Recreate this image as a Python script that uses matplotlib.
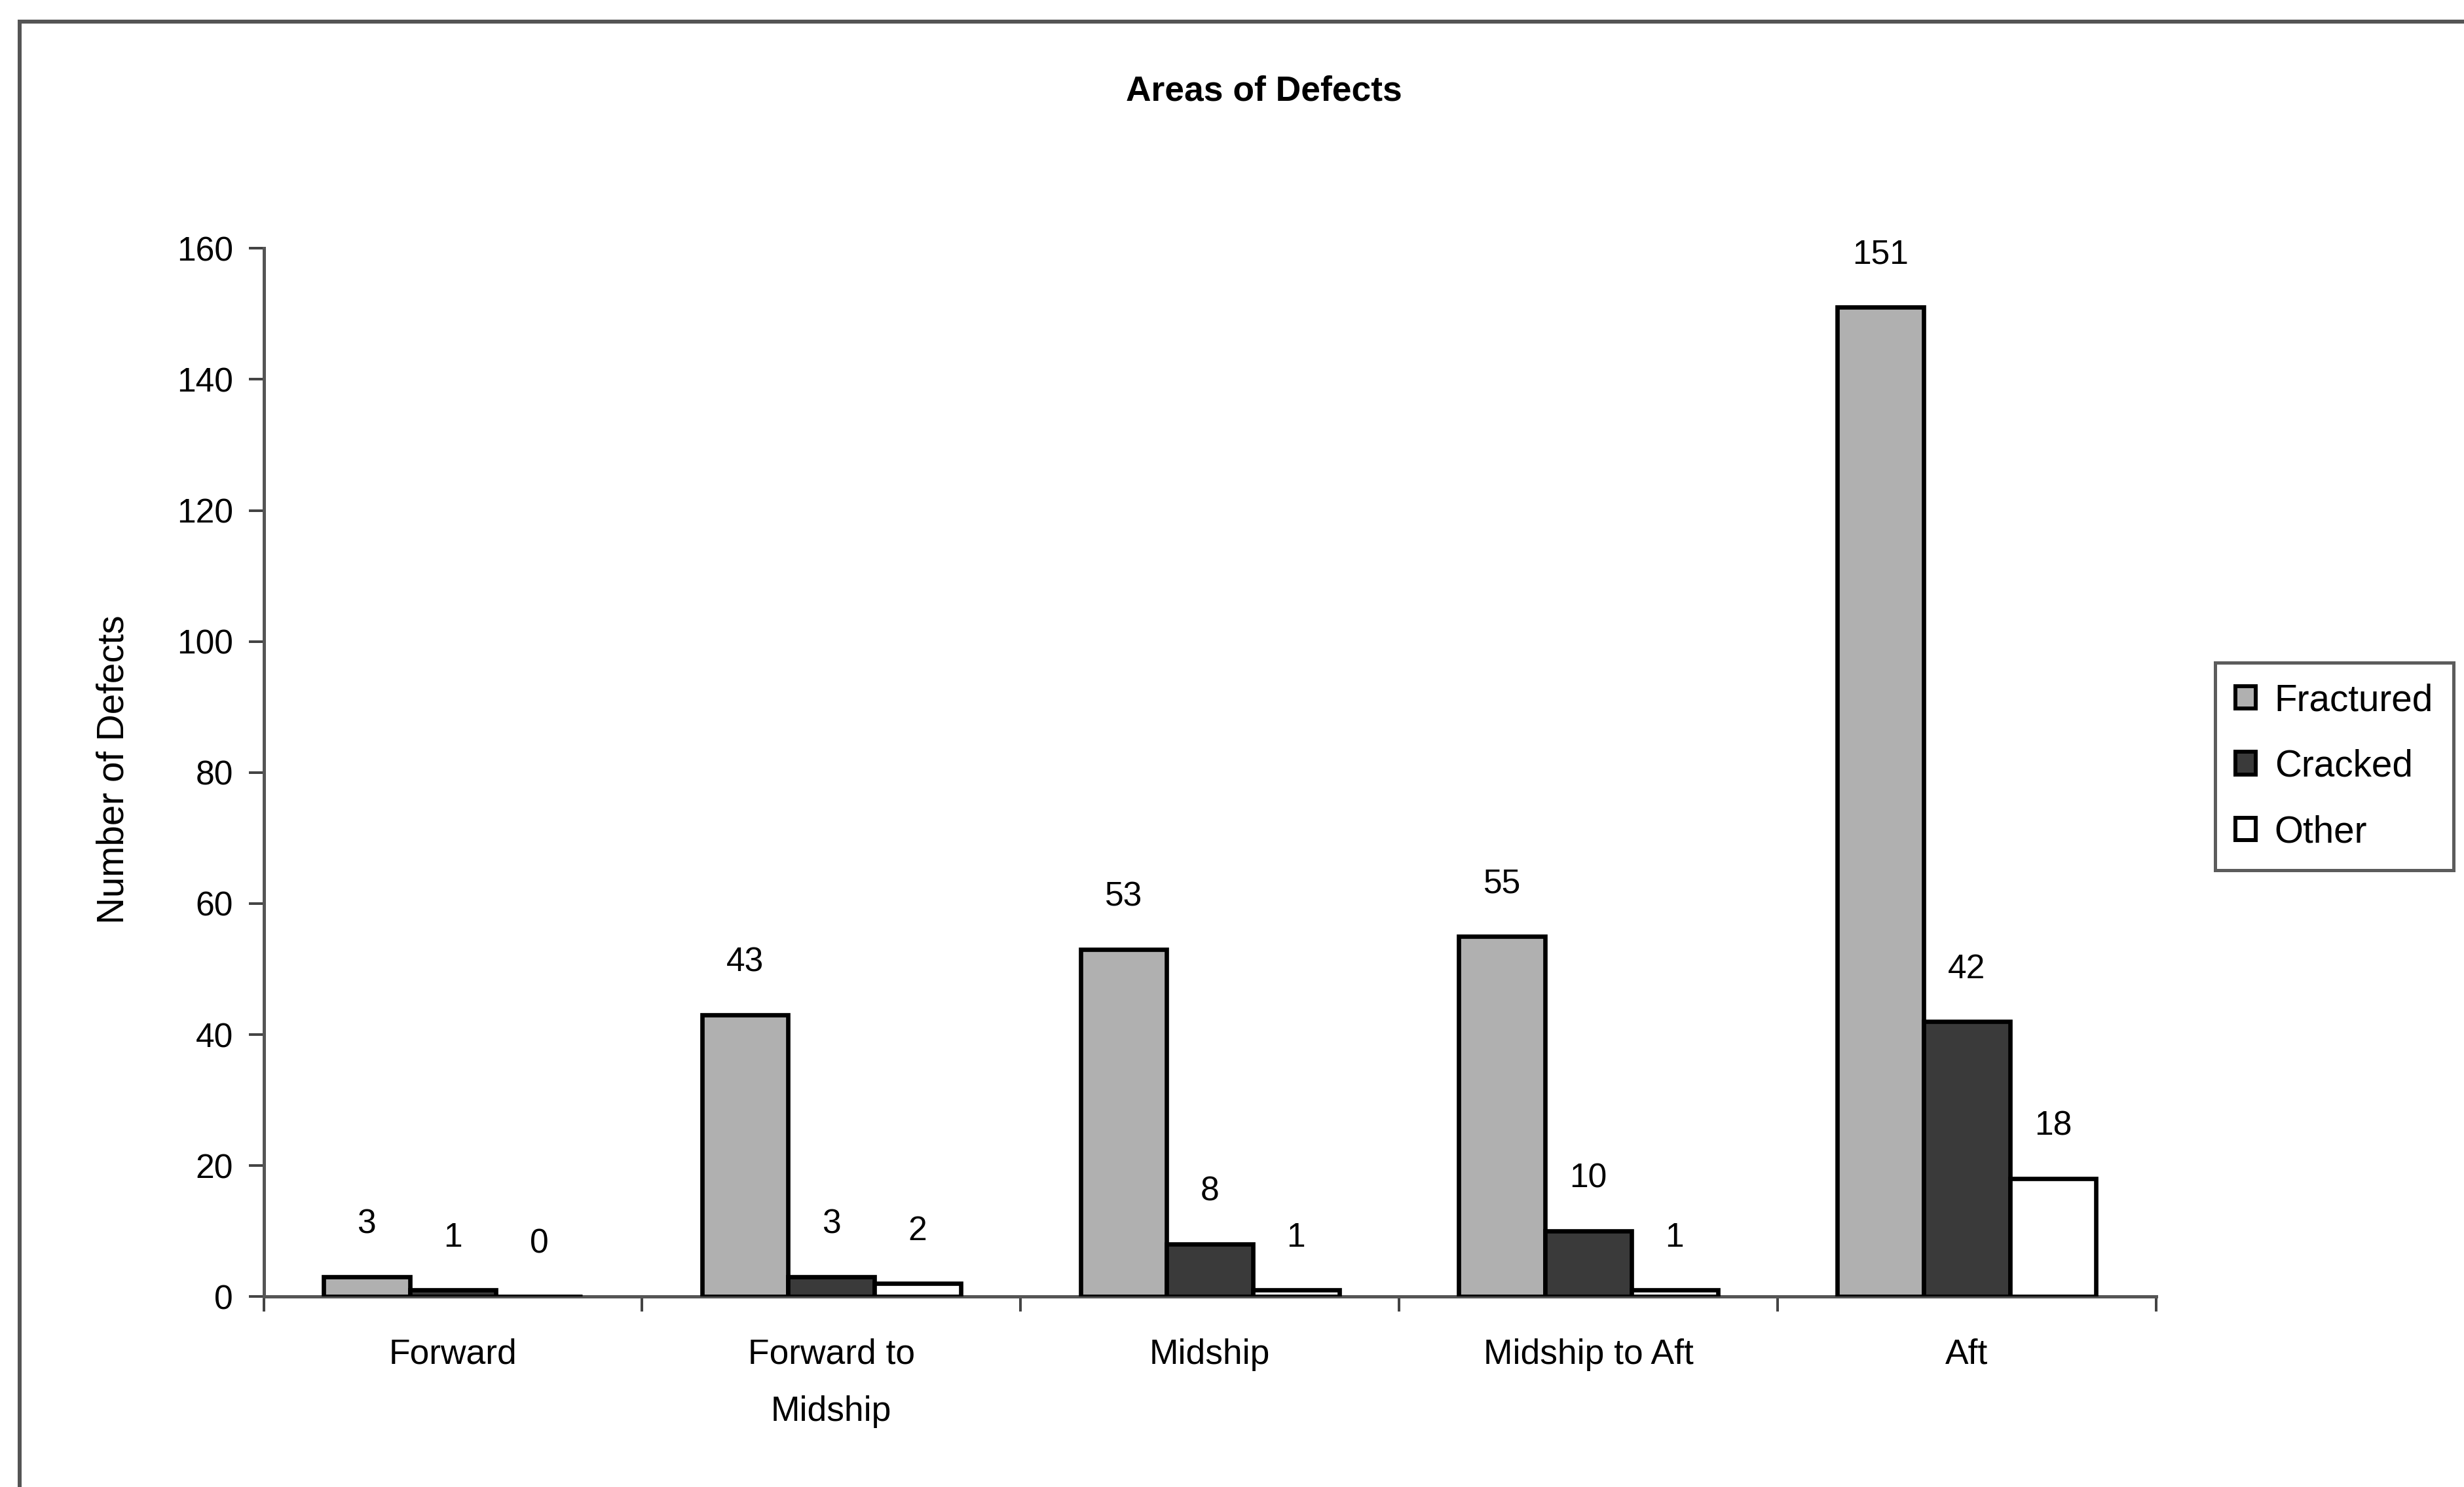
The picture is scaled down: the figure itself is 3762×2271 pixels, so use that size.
import matplotlib.pyplot as plt
import numpy as np
from matplotlib.patches import Rectangle, Patch

plt.rcParams['font.family'] = ['Liberation Sans', 'DejaVu Sans']

# data
areas = ['Forward', 'Forward to\nMidship', 'Midship', 'Midship to Aft', 'Aft']
fractured = [3, 43, 53, 55, 151]
cracked = [1, 3, 8, 10, 42]
other = [0, 2, 1, 1, 18]
series_names = ['Fractured', 'Cracked', 'Other']
y_ticks = [0, 20, 40, 60, 80, 100, 120, 140, 160]

fig = plt.figure(figsize=(15.675, 9.4625), dpi=240)
ax = fig.add_axes([0.107, 0.128, 0.768, 0.705])

x = np.arange(len(areas))
w = 0.228
colors = ['#b0b0b0', '#3a3a3a', '#ffffff']
for j, (vals, col) in enumerate(zip([fractured, cracked, other], colors)):
    bars = ax.bar(x + (j - 1) * w, vals, w, color=col, edgecolor='black',
                  linewidth=2.0, label=series_names[j], zorder=3)
    for b, v in zip(bars, vals):
        ax.annotate(str(v), (b.get_x() + b.get_width() / 2, v),
                    xytext=(0, 24), textcoords='offset points',
                    ha='center', va='center', fontsize=15.5)

ax.set_xlim(-0.5, len(areas) - 0.5)
ax.set_ylim(0, 160)
ax.set_yticks(y_ticks)
ax.set_yticklabels([str(t) for t in y_ticks], fontsize=15.5)
ax.set_xticks(x)
ax.set_xticklabels(areas, fontsize=16, linespacing=1.95, va='top')
ax.set_xticks(np.arange(len(areas) + 1) - 0.5, minor=True)
ax.tick_params(axis='x', which='major', length=0, pad=19)
ax.tick_params(axis='x', which='minor', length=7, width=1.2, color='#444444')
ax.tick_params(axis='y', length=7, width=1.2, color='#444444', pad=7)

for s in ['top', 'right']:
    ax.spines[s].set_visible(False)
for s in ['left', 'bottom']:
    ax.spines[s].set_color('#555555')
    ax.spines[s].set_linewidth(1.5)

ax.set_ylabel('Number of Defects', fontsize=17)
ax.yaxis.set_label_coords(-0.07, 0.503)

fig.text(0.513, 1 - 58 / 947, 'Areas of Defects', ha='center', va='center',
         fontsize=16, fontweight='bold')

handles = [Patch(facecolor=c, edgecolor='black', linewidth=1.8) for c in colors]
leg = fig.legend(handles, series_names, loc='upper left',
                 bbox_to_anchor=(0.899, 0.5544), fontsize=17, frameon=True,
                 fancybox=False, edgecolor='#333333', handlelength=0.55,
                 handleheight=0.55, handletextpad=0.5, labelspacing=0.82,
                 borderpad=0.55, borderaxespad=0)
leg.get_frame().set_linewidth(1.5)

# chart area border
fig.patches.append(Rectangle((0.008, -0.05), 1.1, 1 - 33 / 2271 + 0.05,
                             transform=fig.transFigure, fill=False,
                             edgecolor='#555555', linewidth=1.8))

fig.savefig('out.png', dpi=240)
